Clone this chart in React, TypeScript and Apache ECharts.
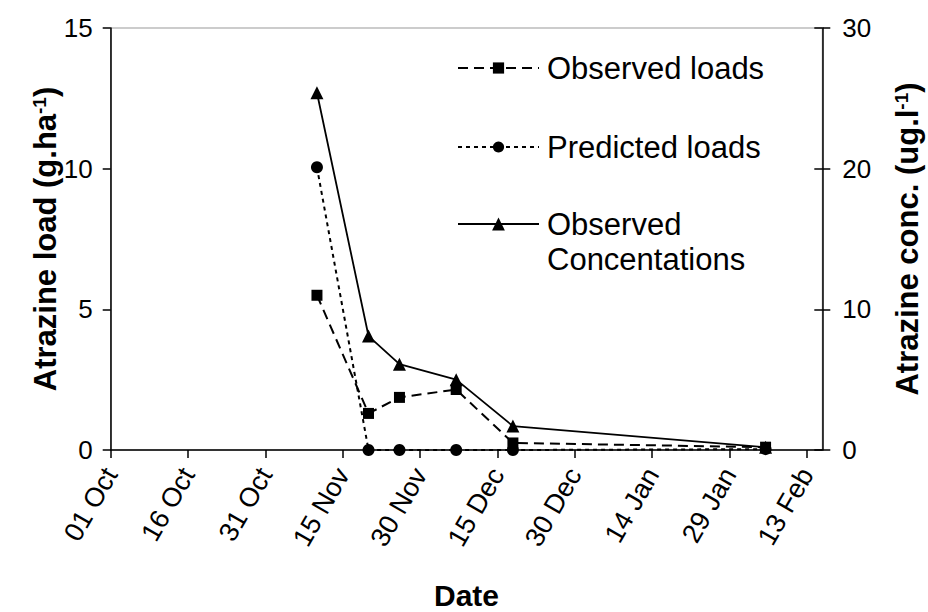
import React, { useEffect, useRef } from "react";
import * as echarts from "echarts";

// ---- data ----
const axisStartDate = "2002-10-01";
const axisEndDate = "2003-02-16";
const xTickDates = [
  "2002-10-01", "2002-10-16", "2002-10-31", "2002-11-15", "2002-11-30",
  "2002-12-15", "2002-12-30", "2003-01-14", "2003-01-29", "2003-02-13",
];
const monthNames = ["Jan", "Feb", "Mar", "Apr", "May", "Jun", "Jul", "Aug", "Sep", "Oct", "Nov", "Dec"];

const sampleDates = ["2002-11-10", "2002-11-20", "2002-11-26", "2002-12-07", "2002-12-18", "2003-02-05"];
const observedLoads = [5.5, 1.3, 1.87, 2.15, 0.25, 0.1];
const predictedLoads = [10.05, 0, 0, 0, 0, 0.03];
const observedConc = [25.4, 8.1, 6.1, 5.0, 1.7, 0.2];

const seriesNames = ["Observed loads", "Predicted loads", "Observed Concentations"];
const loadAxis = { min: 0, max: 15, interval: 5 };
const concAxis = { min: 0, max: 30, interval: 10 };

// ---- helpers ----
const DAY = 86400000;
const dayOffset = (d: string) => Math.round((Date.parse(d) - Date.parse(axisStartDate)) / DAY);
const fmtDay = (v: number) => {
  const dt = new Date(Date.parse(axisStartDate) + v * DAY);
  const dd = String(dt.getUTCDate()).padStart(2, "0");
  return dd + " " + monthNames[dt.getUTCMonth()];
};
const pairs = (vals: number[]) => sampleDates.map((d, i) => [dayOffset(d), vals[i]]);

const FONT = "'Liberation Sans', Arial, sans-serif";
const BLACK = "#000";
const TICK_FONT = 26;

export default function App() {
  const ref = useRef<HTMLDivElement>(null);
  useEffect(() => {
    if (!ref.current) return;
    const chart = echarts.init(ref.current, null, { renderer: "svg" });
    const tickVals = xTickDates.map(dayOffset);
    const legendBase = {
      orient: "vertical",
      padding: 0,
      itemWidth: 81,
      itemHeight: 14,
      selectedMode: false,
      textStyle: { fontSize: 31, color: BLACK, fontFamily: FONT, lineHeight: 35, padding: [0, 0, 0, 3] },
    };
    const option: any = {
      animation: false,
      textStyle: { fontFamily: FONT, color: BLACK },
      grid: {
        left: 110.7,
        right: 105.7,
        top: 28,
        bottom: 162,
        containLabel: false,
        outerBoundsMode: "none",
        show: true,
        borderColor: "#999",
        borderWidth: 1,
      },
      legend: [
        { ...legendBase, left: 457, top: 50.5, data: [seriesNames[0]] },
        { ...legendBase, left: 457, top: 129.5, data: [seriesNames[1]] },
        {
          ...legendBase,
          left: 457,
          top: 171.5,
          itemHeight: 16,
          data: [seriesNames[2]],
          formatter: () => " \nObserved\nConcentations",
        },
      ],
      xAxis: {
        type: "value",
        min: 0,
        max: dayOffset(axisEndDate),
        splitLine: { show: false },
        axisLine: { lineStyle: { color: BLACK, width: 1.5 } },
        axisTick: { show: true, length: 8, customValues: tickVals, lineStyle: { color: BLACK, width: 1.5 } },
        axisLabel: {
          customValues: tickVals,
          rotate: 60,
          fontSize: 27,
          margin: 20,
          color: BLACK,
          formatter: (v: number) => fmtDay(v),
        },
        name: "Date",
        nameLocation: "middle",
        nameGap: 131,
        nameMoveOverlap: false,
        nameTextStyle: { fontSize: 30, fontWeight: "bold", color: BLACK, lineHeight: 28 },
      },
      yAxis: [
        {
          type: "value",
          position: "left",
          ...loadAxis,
          splitLine: { show: false },
          axisLine: { show: true, lineStyle: { color: BLACK, width: 1.5 } },
          axisTick: { show: true, length: 8, lineStyle: { color: BLACK, width: 1.5 } },
          axisLabel: { fontSize: TICK_FONT, margin: 18, color: BLACK },
          name: "Atrazine load (g.ha{sup|-1})",
          nameLocation: "middle",
          nameGap: 50,
          nameMoveOverlap: false,
          nameTextStyle: {
            fontSize: 31,
            fontWeight: "bold",
            color: BLACK,
            rich: { sup: { fontSize: 19, fontWeight: "bold", verticalAlign: "top", color: BLACK } },
          },
        },
        {
          type: "value",
          position: "right",
          ...concAxis,
          splitLine: { show: false },
          axisLine: { show: true, lineStyle: { color: BLACK, width: 1.5 } },
          axisTick: { show: true, length: 8, lineStyle: { color: BLACK, width: 1.5 } },
          axisLabel: { fontSize: TICK_FONT, margin: 20, color: BLACK },
          name: "Atrazine conc. (ug.l{sup|-1})",
          nameLocation: "middle",
          nameGap: 70,
          nameMoveOverlap: false,
          nameTextStyle: {
            fontSize: 31,
            fontWeight: "bold",
            color: BLACK,
            rich: { sup: { fontSize: 19, fontWeight: "bold", verticalAlign: "top", color: BLACK } },
          },
        },
        {
          type: "value",
          position: "right",
          ...concAxis,
          splitLine: { show: false },
          axisLine: { show: false },
          axisTick: { show: true, inside: true, length: 8, lineStyle: { color: BLACK, width: 1.5 } },
          axisLabel: { show: false },
        },
      ],
      series: [
        {
          name: seriesNames[0],
          type: "line",
          yAxisIndex: 0,
          data: pairs(observedLoads),
          symbol: "rect",
          symbolSize: 11,
          itemStyle: { color: BLACK },
          lineStyle: { color: BLACK, width: 2, type: [10, 6] },
          z: 3,
        },
        {
          name: seriesNames[1],
          type: "line",
          yAxisIndex: 0,
          data: pairs(predictedLoads),
          symbol: "circle",
          symbolSize: 12,
          itemStyle: { color: BLACK },
          lineStyle: { color: BLACK, width: 2, type: [4, 4] },
          z: 3,
        },
        {
          name: seriesNames[2],
          type: "line",
          yAxisIndex: 1,
          data: pairs(observedConc),
          symbol: "triangle",
          symbolSize: 13,
          itemStyle: { color: BLACK },
          lineStyle: { color: BLACK, width: 1.8, type: "solid" },
          z: 3,
        },
      ],
    };
    chart.setOption(option);
    return () => chart.dispose();
  }, []);
  return (
    <div
      ref={ref}
      style={{ position: "fixed", left: 0, top: 0, width: 928, height: 612, background: "#fff" }}
    />
  );
}
